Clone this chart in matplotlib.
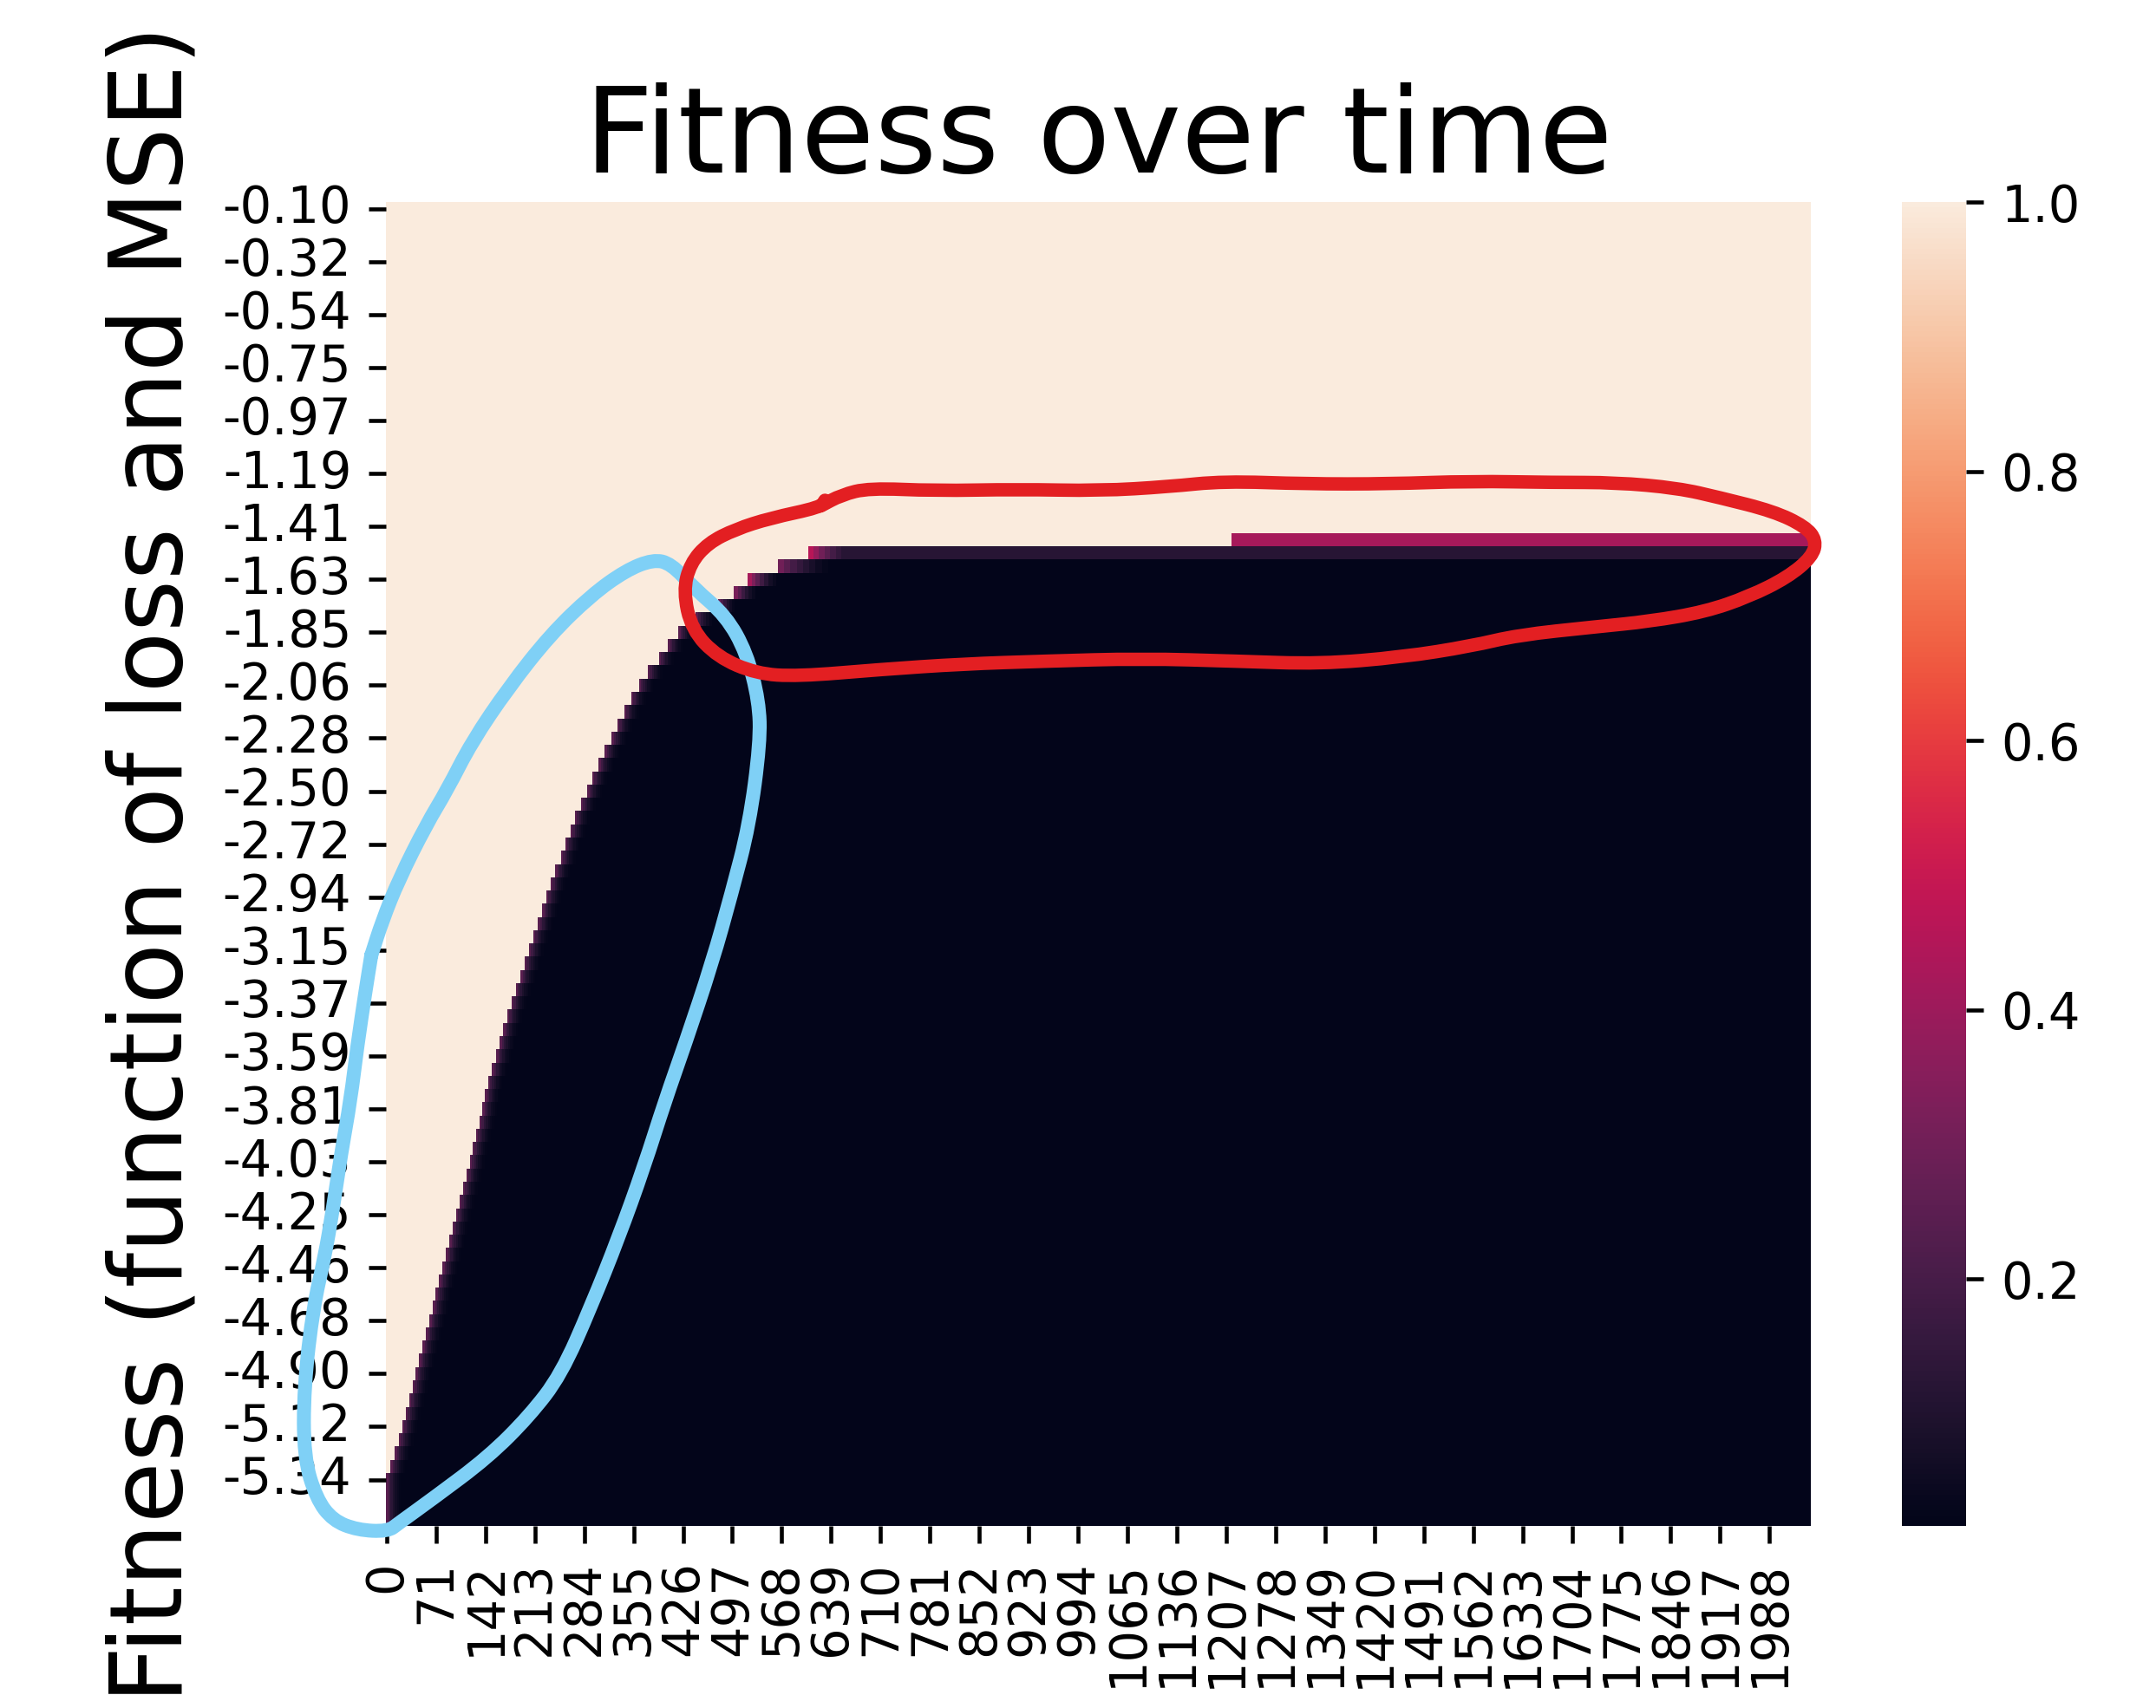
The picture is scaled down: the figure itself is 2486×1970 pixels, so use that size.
import numpy as np
import pandas as pd
import matplotlib
matplotlib.use("Agg")
import matplotlib.pyplot as plt
from matplotlib.path import Path
from matplotlib.patches import PathPatch
import seaborn as sns

# heatmap grid: generations x fitness bins
n_gens = 2048
fitness_levels = np.linspace(-0.10, -5.50, 100)

# first generation at which each fitness row turns dark (rows 26..99)
reach_rows = list(range(26, 100))
reach_gen = [606, 563, 519, 500, 477, 444,
             420, 405, 392, 376, 363, 352, 342, 332,
             324, 314, 305, 296, 289, 280, 271, 265, 257, 251,
             243, 236, 230, 224, 218, 211, 205, 199, 193, 186,
             180, 174, 168, 163, 158, 152, 146, 142, 138, 134,
             129, 124, 120, 115, 110, 105, 100, 95, 91, 86,
             81, 76, 71, 67, 62, 57, 52, 47, 42, 38,
             33, 28, 23, 18, 12, 6, 0, 0, 0, 0]

floor_level = 1 / 60
# purple fade at the leading edge of each step: (levels, block width in gens)
default_fade = ([0.24, 0.18, 0.13, 0.09, 0.06, 0.04, 0.025], 3)
top_fades = {
    26: ([0.46, 0.38, 0.30, 0.24, 0.19, 0.15], 8),
    27: ([0.30, 0.24, 0.19, 0.15, 0.11, 0.08, 0.05, 0.03], 9),
    28: ([0.42, 0.33, 0.25, 0.18, 0.12, 0.07, 0.04], 6),
    29: ([0.32, 0.24, 0.17, 0.11, 0.07, 0.04], 5),
    30: ([0.28, 0.21, 0.15, 0.10, 0.06, 0.035], 4),
    31: ([0.24, 0.18, 0.13, 0.09, 0.06, 0.035], 4),
}
row26_plateau = 0.12
band_row, band_start, band_level = 25, 1215, 0.42

values = np.ones((len(fitness_levels), n_gens))
for r, g in zip(reach_rows, reach_gen):
    levels, width = top_fades.get(r, default_fade)
    fade = np.repeat(levels, width)
    values[r, g:] = floor_level
    if r == 26:
        values[r, g:] = row26_plateau
    values[r, g:g + len(fade)] = fade
values[band_row, band_start:] = band_level

df = pd.DataFrame(values, index=[f"{v:.2f}" for v in fitness_levels],
                  columns=range(n_gens))

# hand-drawn highlight loops, axes fraction coordinates
blue_u = [-0.0106, -0.0029, 0.0087, 0.0280, 0.0425, 0.0598, 0.0859, 0.1149, 0.1438,
          0.1680, 0.1873, 0.1998, 0.2162, 0.2384, 0.2529, 0.2616, 0.2625, 0.2548,
          0.2423, 0.2288, 0.2095, 0.1959, 0.1805, 0.1631, 0.1438, 0.1226, 0.1004,
          0.0714, 0.0328, 0.0087, 0.0010, -0.0203, -0.0376, -0.0492, -0.0579,
          -0.0579, -0.0512, -0.0434, -0.0376, -0.0319, -0.0251, -0.0203, -0.0145, -0.0106]
blue_v = [0.4309, 0.4569, 0.4881, 0.5296, 0.5556, 0.5919, 0.6334, 0.6729, 0.7030,
          0.7217, 0.7300, 0.7269, 0.7082, 0.6874, 0.6594, 0.6231, 0.5919, 0.5296,
          0.4777, 0.4258, 0.3634, 0.3219, 0.2700, 0.2181, 0.1661, 0.1142, 0.0831,
          0.0519, 0.0208, 0.0021, -0.0042, -0.0031, 0.0042, 0.0208, 0.0519,
          0.1049, 0.1662, 0.2025, 0.2388, 0.2804, 0.3219, 0.3634, 0.4050, 0.4309]
red_u = [0.3050, 0.3195, 0.3388, 0.3851, 0.4431, 0.5010, 0.5492, 0.5878, 0.6458,
         0.7037, 0.7616, 0.8195, 0.8629, 0.9064, 0.9363, 0.9739, 0.9961, 1.0039,
         1.0010, 0.9836, 0.9566, 0.9257, 0.8871, 0.8485, 0.7944, 0.7616, 0.7133,
         0.6554, 0.5975, 0.5299, 0.4624, 0.4044, 0.3465, 0.2886, 0.2597, 0.2326,
         0.2143, 0.2085, 0.2133, 0.2259, 0.2452, 0.2693, 0.3050, 0.3079]
red_v = [0.7705, 0.7788, 0.7840, 0.7819, 0.7830, 0.7819, 0.7850, 0.7892, 0.7871,
         0.7871, 0.7892, 0.7882, 0.7882, 0.7840, 0.7767, 0.7664, 0.7549, 0.7445,
         0.7321, 0.7165, 0.7020, 0.6905, 0.6833, 0.6791, 0.6729, 0.6646, 0.6563,
         0.6511, 0.6532, 0.6552, 0.6532, 0.6511, 0.6469, 0.6417, 0.6438, 0.6563,
         0.6771, 0.7061, 0.7269, 0.7425, 0.7529, 0.7612, 0.7695, 0.7747]


def smooth_stroke(us, vs):
    # quadratic bezier through midpoints, so the marker strokes look hand drawn
    pts = np.column_stack([us, vs])
    mids = (pts[:-1] + pts[1:]) / 2
    verts = [pts[0], mids[0]]
    codes = [Path.MOVETO, Path.LINETO]
    for i in range(1, len(pts) - 1):
        verts += [pts[i], mids[i]]
        codes += [Path.CURVE3, Path.CURVE3]
    verts.append(pts[-1])
    codes.append(Path.LINETO)
    return Path(verts, codes)


dpi = 414
fig = plt.figure(figsize=(2486 / dpi, 1970 / dpi), dpi=dpi)
ax = fig.add_axes([0.1792, 0.1066, 0.6607, 0.7751])
cax = fig.add_axes([0.8821, 0.1066, 0.0298, 0.7751])

sns.heatmap(df, ax=ax, cbar_ax=cax, cmap="rocket",
            xticklabels=71, yticklabels=4)
ax.tick_params(axis="y", rotation=0)
ax.tick_params(axis="x", rotation=90)
ax.set_title("Fitness over time", fontsize=24)
ax.set_ylabel("Fitness (function of loss and MSE)", fontsize=20)

# strokes sit on top of the tick labels, like marker drawn on a screenshot
for us, vs, col, lw in [(blue_u, blue_v, "#7fd0f6", 2.8),
                        (red_u, red_v, "#e31f22", 2.7)]:
    ax.add_patch(PathPatch(smooth_stroke(us, vs), fill=False, edgecolor=col, lw=lw,
                           transform=ax.transAxes, clip_on=False, zorder=10,
                           capstyle="round", joinstyle="round"))

fig.savefig("out.png", dpi=dpi)
